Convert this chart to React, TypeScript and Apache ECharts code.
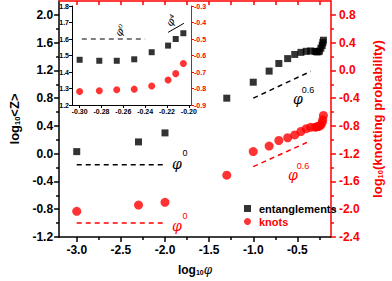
import React, { useEffect, useRef } from "react";
import * as echarts from "echarts";

// ---- data ----
const logPhi = [-3.0, -2.3, -2.0, -1.3, -1.0, -0.82, -0.71, -0.61, -0.53, -0.46, -0.40, -0.35, -0.30, -0.282, -0.266, -0.25, -0.234, -0.219, -0.212, -0.205];
const logZ = [0.03, 0.17, 0.30, 0.80, 1.03, 1.19, 1.30, 1.37, 1.43, 1.46, 1.475, 1.48, 1.474, 1.468, 1.468, 1.477, 1.52, 1.56, 1.60, 1.635];
const logKnot = [-2.03, -1.94, -1.90, -1.51, -1.17, -1.09, -1.01, -0.97, -0.93, -0.88, -0.84, -0.82, -0.818, -0.814, -0.808, -0.804, -0.785, -0.749, -0.71, -0.648];

const insetPhi = [-0.30, -0.282, -0.266, -0.25, -0.234, -0.219, -0.212, -0.205];
const insetZ = [1.474, 1.468, 1.468, 1.477, 1.52, 1.56, 1.60, 1.635];
const insetKnot = [-0.818, -0.814, -0.808, -0.804, -0.785, -0.749, -0.71, -0.648];

// guide lines (scaling laws)
const zPhi0 = [[-3.0, -0.16], [-2.0, -0.16]];
const knotPhi0 = [[-3.0, -2.2], [-2.0, -2.2]];
const zPhi06 = [[-1.0, 0.80], [-0.35, 1.186]];
const knotPhi06 = [[-1.0, -1.386], [-0.35, -1.014]];
const insetZPhi0 = [[-0.298, 1.6], [-0.240, 1.6]];
const insetZPhi4 = [[-0.219, 1.64], [-0.2045, 1.695]];

// tick values
const xMajor = [-3.0, -2.5, -2.0, -1.5, -1.0, -0.5];
const xMinor = [-2.75, -2.25, -1.75, -1.25, -0.75, -0.25];
const xTop = [-3.0, -2.75, -2.5, -2.25, -2.0, -1.75, -1.5, -1.25, -1.0, -0.75, -0.5, -0.25];
const yLeftMajor = [-1.2, -0.8, -0.4, 0.0, 0.4, 0.8, 1.2, 1.6, 2.0];
const yLeftMinor = [-1.0, -0.6, -0.2, 0.2, 0.6, 1.0, 1.4, 1.8];
const yRightMajor = [-2.4, -2.0, -1.6, -1.2, -0.8, -0.4, 0.0, 0.4, 0.8];
const yRightMinor = [-2.2, -1.8, -1.4, -1.0, -0.6, -0.2, 0.2, 0.6];
const insetXTicks = [-0.30, -0.28, -0.26, -0.24, -0.22, -0.20];
const insetYLeftTicks = [1.2, 1.3, 1.4, 1.5, 1.6, 1.7, 1.8];
const insetYRightTicks = [-0.9, -0.8, -0.7, -0.6, -0.5, -0.4, -0.3];

const FF = "'Liberation Sans', Arial, sans-serif";
const SERIF = "'DejaVu Serif', serif";
const RED = "#ff0000";
const BLK = "#000000";

const zip = (a: number[], b: number[]) => a.map((v, i) => [v, b[i]]);

function minorAxis(grid: number, min: number, max: number, pos: string, vals: number[], color: string) {
  return {
    type: "value", gridIndex: grid, min, max, position: pos,
    axisLine: { show: false, onZero: false },
    axisTick: { show: true, length: 3, customValues: vals, lineStyle: { color, width: 1.5 } },
    axisLabel: { show: false },
    splitLine: { show: false },
  };
}

function guide(data: number[][], xi: number, yi: number, color: string, dashed = true, width = 1.5) {
  return {
    type: "line", xAxisIndex: xi, yAxisIndex: yi, data, symbol: "none", silent: true,
    lineStyle: { color, width, type: dashed ? [5, 4] : "solid" },
    z: 1,
  };
}

function txt(x: number, y: number, text: string, fill: string, size: number, italic = false, rotation = 0) {
  return {
    type: "text", x, y, rotation,
    style: {
      text, fill, fontSize: size, fontStyle: italic ? "italic" : "normal",
      fontFamily: italic ? SERIF : FF, align: "center", verticalAlign: "middle",
    },
  };
}

export default function App() {
  const ref = useRef<HTMLDivElement>(null);
  useEffect(() => {
    const chart = echarts.init(ref.current!, null, { renderer: "svg" });
    const lbl = (color: string, size: number, margin: number, vals: number[], dec: number) => ({
      customValues: vals, color, fontSize: size, fontWeight: "bold", fontFamily: FF, margin,
      formatter: (v: number) => v.toFixed(dec),
    });
    const option: any = {
      animation: false,
      grid: [
        { left: 53, top: 1, width: 293, height: 238 },
        { left: 72, top: 6, width: 119, height: 99 },
      ],
      legend: {
        orient: "vertical", left: 244, top: 203, padding: 0, itemWidth: 7, itemHeight: 7, itemGap: 2,
        textStyle: { fontSize: 11, fontWeight: "bold", fontFamily: FF, padding: [0, 0, 0, 3] },
        data: [
          { name: "entanglements", icon: "rect", textStyle: { color: BLK } },
          { name: "knots", icon: "circle", textStyle: { color: RED } },
        ],
      },
      xAxis: [
        {
          type: "value", gridIndex: 0, min: -3.2, max: -0.12, position: "bottom",
          axisLine: { show: true, onZero: false, lineStyle: { color: BLK, width: 1.5 } },
          axisTick: { show: true, length: 5, customValues: xMajor, lineStyle: { color: BLK, width: 1.5 } },
          axisLabel: lbl(BLK, 12, 7, xMajor, 1),
          splitLine: { show: false },
          name: "{a|log}{b|10}{c|φ}", nameLocation: "middle", nameGap: 26,
          nameTextStyle: {
            rich: {
              a: { fontSize: 12, fontWeight: "bold", fontFamily: FF, color: BLK },
              b: { fontSize: 7, fontWeight: "bold", fontFamily: FF, color: BLK, verticalAlign: "bottom", padding: [6, 0, 0, 0] },
              c: { fontSize: 12, fontStyle: "italic", fontFamily: SERIF, color: BLK },
            },
          },
        },
        minorAxis(0, -3.2, -0.12, "bottom", xMinor, BLK),
        {
          type: "value", gridIndex: 0, min: -3.2, max: -0.12, position: "top",
          axisLine: { show: true, onZero: false, lineStyle: { color: RED, width: 1.5 } },
          axisTick: { show: true, inside: true, length: 4, customValues: xTop, lineStyle: { color: RED, width: 1.5 } },
          axisLabel: { show: false },
          splitLine: { show: false },
        },
        {
          type: "value", gridIndex: 1, min: -0.307, max: -0.198, position: "bottom",
          axisLine: { show: true, onZero: false, lineStyle: { color: BLK, width: 1 } },
          axisTick: { show: true, length: 3, customValues: insetXTicks, lineStyle: { color: BLK, width: 1 } },
          axisLabel: lbl(BLK, 7, 3, insetXTicks, 2),
          splitLine: { show: false },
        },
      ],
      yAxis: [
        {
          type: "value", gridIndex: 0, min: -1.2, max: 2.2, position: "left",
          axisLine: { show: true, onZero: false, lineStyle: { color: BLK, width: 1.5 } },
          axisTick: { show: true, length: 5, customValues: yLeftMajor, lineStyle: { color: BLK, width: 1.5 } },
          axisLabel: lbl(BLK, 12, 6, yLeftMajor, 1),
          splitLine: { show: false },
          name: "{a|log}{b|10}{a|<Z>}", nameLocation: "middle", nameGap: 33, nameRotate: 90,
          nameTextStyle: {
            rich: {
              a: { fontSize: 13, fontWeight: "bold", fontFamily: FF, color: BLK },
              b: { fontSize: 7.5, fontWeight: "bold", fontFamily: FF, color: BLK, verticalAlign: "bottom", padding: [6, 0, 0, 0] },
            },
          },
        },
        minorAxis(0, -1.2, 2.2, "left", yLeftMinor, BLK),
        {
          type: "value", gridIndex: 0, min: -2.4, max: 1.0, position: "right",
          axisLine: { show: true, onZero: false, lineStyle: { color: RED, width: 1.5 } },
          axisTick: { show: true, length: 5, customValues: yRightMajor, lineStyle: { color: RED, width: 1.5 } },
          axisLabel: lbl(RED, 12, 8, yRightMajor, 1),
          splitLine: { show: false },
          name: "{a|log}{b|10}{a|(knotting probability)}", nameLocation: "middle", nameGap: 28, nameRotate: 90,
          nameTextStyle: {
            rich: {
              a: { fontSize: 13, fontWeight: "bold", fontFamily: FF, color: RED },
              b: { fontSize: 7.5, fontWeight: "bold", fontFamily: FF, color: RED, verticalAlign: "bottom", padding: [6, 0, 0, 0] },
            },
          },
        },
        minorAxis(0, -2.4, 1.0, "right", yRightMinor, RED),
        {
          type: "value", gridIndex: 1, min: 1.2, max: 1.8, position: "left",
          axisLine: { show: true, onZero: false, lineStyle: { color: BLK, width: 1 } },
          axisTick: { show: true, length: 3, customValues: insetYLeftTicks, lineStyle: { color: BLK, width: 1 } },
          axisLabel: lbl(BLK, 7, 3, insetYLeftTicks, 1),
          splitLine: { show: false },
        },
        {
          type: "value", gridIndex: 1, min: -0.9, max: -0.3, position: "right",
          axisLine: { show: true, onZero: false, lineStyle: { color: RED, width: 1 } },
          axisTick: { show: true, length: 3, customValues: insetYRightTicks, lineStyle: { color: RED, width: 1 } },
          axisLabel: lbl(RED, 7, 3, insetYRightTicks, 1),
          splitLine: { show: false },
        },
      ],
      series: [
        {
          name: "entanglements", type: "scatter", xAxisIndex: 0, yAxisIndex: 0, symbol: "rect", symbolSize: 7,
          itemStyle: { color: BLK }, data: zip(logPhi, logZ), z: 3,
        },
        {
          name: "knots", type: "scatter", xAxisIndex: 0, yAxisIndex: 2, symbol: "circle", symbolSize: 9,
          itemStyle: { color: RED }, data: zip(logPhi, logKnot), z: 3,
        },
        guide(zPhi0, 0, 0, BLK),
        guide(knotPhi0, 0, 2, RED),
        guide(zPhi06, 0, 0, BLK),
        guide(knotPhi06, 0, 2, RED),
        {
          type: "scatter", xAxisIndex: 3, yAxisIndex: 4, symbol: "rect", symbolSize: 6,
          itemStyle: { color: BLK }, data: zip(insetPhi, insetZ), z: 3,
        },
        {
          type: "scatter", xAxisIndex: 3, yAxisIndex: 5, symbol: "circle", symbolSize: 7,
          itemStyle: { color: RED }, data: zip(insetPhi, insetKnot), z: 3,
        },
        guide(insetZPhi0, 3, 4, BLK, true, 1.2),
        guide(insetZPhi4, 3, 4, BLK, false, 1),
      ],
      graphic: [
        txt(177, 164, "φ", BLK, 14, true),
        txt(185, 153, "0", BLK, 9),
        txt(177, 226, "φ", RED, 14, true),
        txt(185, 216, "0", RED, 9),
        txt(298, 99, "φ", BLK, 14, true),
        txt(308, 90, "0.6", BLK, 9),
        txt(293, 175, "φ", RED, 14, true),
        txt(303, 166, "0.6", RED, 9),
        txt(120, 30, "φ⁰", BLK, 10.5, true, Math.PI / 3),
        txt(171, 20, "φ⁴", BLK, 10.5, true, Math.PI / 3),
      ],
    };
    chart.setOption(option);
    return () => chart.dispose();
  }, []);
  return <div ref={ref} style={{ position: "absolute", left: 0, top: 0, width: 392, height: 281 }} />;
}
